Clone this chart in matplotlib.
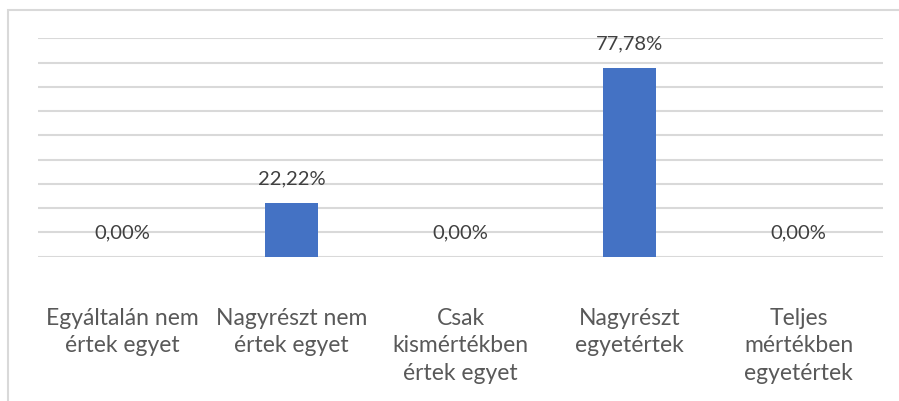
import matplotlib
matplotlib.use("Agg")
import matplotlib.pyplot as plt
from matplotlib.patches import Rectangle
from matplotlib.transforms import blended_transform_factory

categories = ["Egyáltalán nem\nértek egyet", "Nagyrészt nem\nértek egyet",
              "Csak\nkismértékben\nértek egyet", "Nagyrészt\negyetértek",
              "Teljes\nmértékben\negyetértek"]
values = [0.00, 22.22, 0.00, 77.78, 0.00]
labels = ["0,00%", "22,22%", "0,00%", "77,78%", "0,00%"]
yticks = [0, 10, 20, 30, 40, 50, 60, 70, 80, 90]

plt.rcParams['font.family'] = ['Lato', 'DejaVu Sans']

W, H = 899, 401
fig = plt.figure(figsize=(W / 100, H / 100), dpi=100)
fig.patch.set_facecolor("white")

# chart border (light gray), extending past right/bottom edges
fig.patches.append(Rectangle((8 / W, -0.05), 1.0, (H - 9.5) / H + 0.05,
                             transform=fig.transFigure, fill=False,
                             edgecolor="#d9d9d9", linewidth=1.5, clip_on=False))

left, right = 38 / W, 883 / W
bottom, top = (H - 256.7) / H, (H - 38.3) / H
ax = fig.add_axes([left, bottom, right - left, top - bottom])

x = list(range(len(categories)))
ax.bar(x, values, width=0.315, color="#4472C4", zorder=3)
ax.set_xlim(-0.5, len(categories) - 0.5)
ax.set_ylim(0, 90)
ax.set_yticks(yticks)
for yv in yticks:
    ax.axhline(yv, color="#d9d9d9", linewidth=1.5, zorder=1)

for xi, v, lab in zip(x, values, labels):
    ax.annotate(lab, (xi, v), xytext=(0, 17), textcoords="offset points",
                ha="center", va="center", fontsize=14.5, color="#404040", zorder=4)

trans = blended_transform_factory(ax.transData, fig.transFigure)
for xi, cat in zip(x, categories):
    ax.text(xi, (H - 308) / H, cat, transform=trans, ha="center", va="top",
            fontsize=16.5, color="#595959", linespacing=1.37)

for s in ax.spines.values():
    s.set_visible(False)
ax.set_xticks([])
ax.tick_params(left=False, labelleft=False)

fig.savefig("out.png", dpi=100)
